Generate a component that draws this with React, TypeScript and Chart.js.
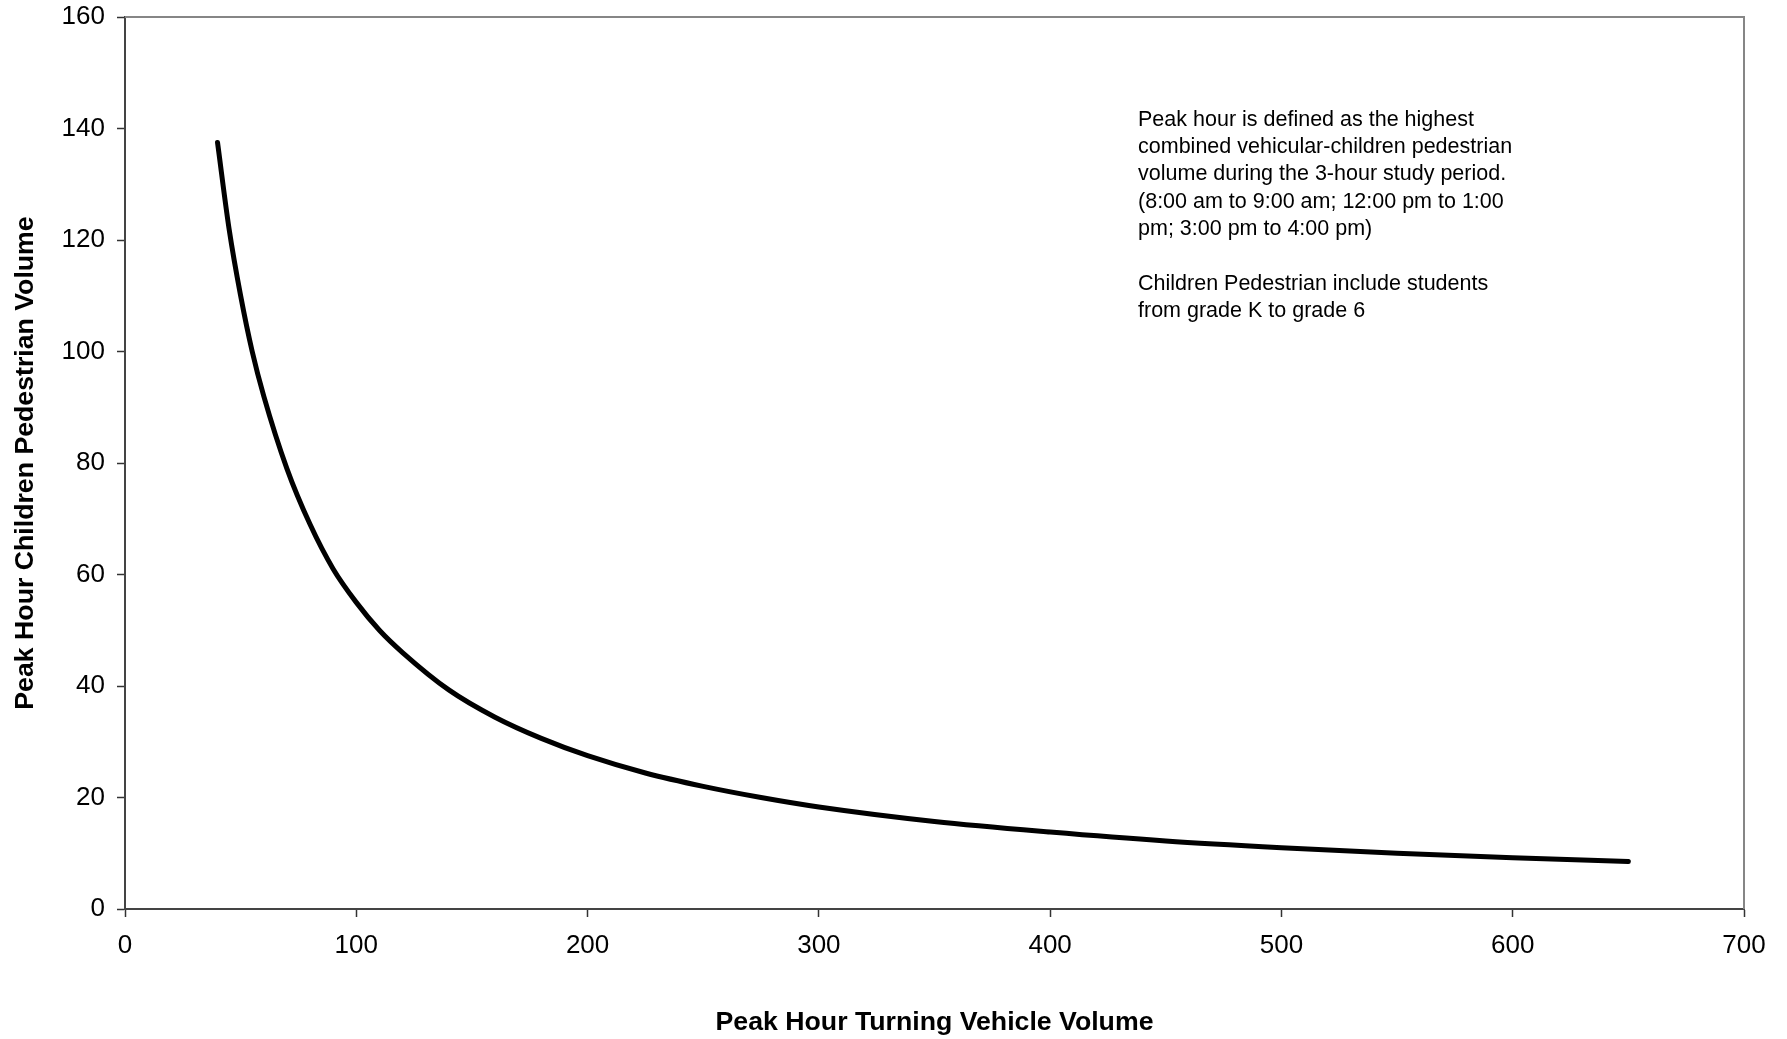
import React, { useEffect, useRef } from "react";
import { Chart, registerables } from "chart.js";

Chart.register(...registerables);

// Peak hour turning vehicle volume (x) vs. peak hour children pedestrian volume (y)
const vehicleVolume = [40, 45, 50, 55, 60, 70, 80, 90, 100, 110, 120, 140, 160, 180, 200, 225, 250, 275, 300, 350, 400, 450, 500, 550, 600, 650];
const pedestrianVolume = [137.5, 122, 110, 100, 92, 79, 69, 61, 55, 50, 46, 39.3, 34.4, 30.6, 27.5, 24.4, 22, 20, 18.3, 15.7, 13.8, 12.2, 11, 10, 9.2, 8.5];

const xTicks = [0, 100, 200, 300, 400, 500, 600, 700];
const yTicks = [0, 20, 40, 60, 80, 100, 120, 140, 160];

const xTitle = "Peak Hour Turning Vehicle Volume";
const yTitle = "Peak Hour Children Pedestrian Volume";

const noteLines = [
  "Peak hour is defined as the highest",
  "combined vehicular-children pedestrian",
  "volume during the 3-hour study period.",
  "(8:00 am to 9:00 am; 12:00 pm to 1:00",
  "pm; 3:00 pm to 4:00 pm)",
  "",
  "Children Pedestrian include students",
  "from grade K to grade 6",
];
// anchor of the note in data coordinates
const noteAnchorX = [438];
const noteAnchorY = [141.6];

const FONT = '"Liberation Sans", Arial, Helvetica, sans-serif';

export default function App() {
  const canvasRef = useRef<HTMLCanvasElement | null>(null);

  useEffect(() => {
    const canvas = canvasRef.current;
    if (!canvas) return;

    const framePlugin = {
      id: "frame",
      beforeDatasetsDraw(chart: any) {
        const { ctx, chartArea } = chart;
        ctx.save();
        ctx.strokeStyle = "#868686";
        ctx.lineWidth = 2;
        ctx.beginPath();
        ctx.moveTo(chartArea.left, chartArea.top);
        ctx.lineTo(chartArea.right, chartArea.top);
        ctx.lineTo(chartArea.right, chartArea.bottom);
        ctx.stroke();
        ctx.restore();
      },
    };

    const notePlugin = {
      id: "note",
      afterDraw(chart: any) {
        const { ctx } = chart;
        const x = chart.scales.x.getPixelForValue(noteAnchorX[0]);
        const y0 = chart.scales.y.getPixelForValue(noteAnchorY[0]);
        ctx.save();
        ctx.font = `21.5px ${FONT}`;
        ctx.fillStyle = "#000";
        ctx.textAlign = "left";
        ctx.textBaseline = "middle";
        noteLines.forEach((line, i) => {
          if (line) ctx.fillText(line, x, y0 + i * 27.4);
        });
        ctx.restore();
      },
    };

    const chart = new Chart(canvas, {
      type: "line",
      data: {
        datasets: [
          {
            data: vehicleVolume.map((v, i) => ({ x: v, y: pedestrianVolume[i] })),
            borderColor: "#000",
            borderWidth: 5,
            pointRadius: 0,
            cubicInterpolationMode: "monotone",
            borderCapStyle: "round",
            borderJoinStyle: "round",
            fill: false,
          },
        ],
      },
      options: {
        animation: false,
        responsive: true,
        maintainAspectRatio: false,
        devicePixelRatio: 1,
        layout: { padding: { left: 0, top: 17, right: 43, bottom: 0 } },
        plugins: { legend: { display: false }, tooltip: { enabled: false } },
        scales: {
          x: {
            type: "linear",
            min: xTicks[0],
            max: xTicks[xTicks.length - 1],
            afterBuildTicks: (scale: any) => {
              scale.ticks = xTicks.map((v) => ({ value: v }));
            },
            afterFit: (scale: any) => {
              scale.height = 130;
              scale.paddingLeft = 0;
              scale.paddingRight = 0;
            },
            ticks: {
              color: "#000",
              font: { family: FONT, size: 26 },
              padding: 13,
              maxRotation: 0,
              autoSkip: false,
            },
            grid: {
              drawOnChartArea: false,
              drawTicks: true,
              tickLength: 8,
              tickColor: "#333",
              tickWidth: 1.5,
            },
            border: { display: true, color: "#444", width: 2 },
            title: {
              display: true,
              text: xTitle,
              color: "#000",
              font: { family: FONT, size: 26.7, weight: "bold" },
              padding: { top: 0, bottom: 0 },
            },
          },
          y: {
            type: "linear",
            min: yTicks[0],
            max: yTicks[yTicks.length - 1],
            afterBuildTicks: (scale: any) => {
              scale.ticks = yTicks.map((v) => ({ value: v }));
            },
            afterFit: (scale: any) => {
              scale.width = 125;
              scale.paddingTop = 0;
              scale.paddingBottom = 0;
            },
            ticks: {
              color: "#000",
              font: { family: FONT, size: 26 },
              padding: 12,
              autoSkip: false,
            },
            grid: {
              drawOnChartArea: false,
              drawTicks: true,
              tickLength: 8,
              tickColor: "#333",
              tickWidth: 1.5,
            },
            border: { display: true, color: "#444", width: 2 },
            title: {
              display: true,
              text: yTitle,
              color: "#000",
              font: { family: FONT, size: 26.7, weight: "bold" },
              padding: { top: 10, bottom: 0 },
            },
          },
        },
      },
      plugins: [framePlugin, notePlugin],
    });

    return () => chart.destroy();
  }, []);

  return (
    <div style={{ position: "absolute", left: 0, top: 0, width: 1787, height: 1039, background: "#fff" }}>
      <canvas ref={canvasRef} />
    </div>
  );
}
